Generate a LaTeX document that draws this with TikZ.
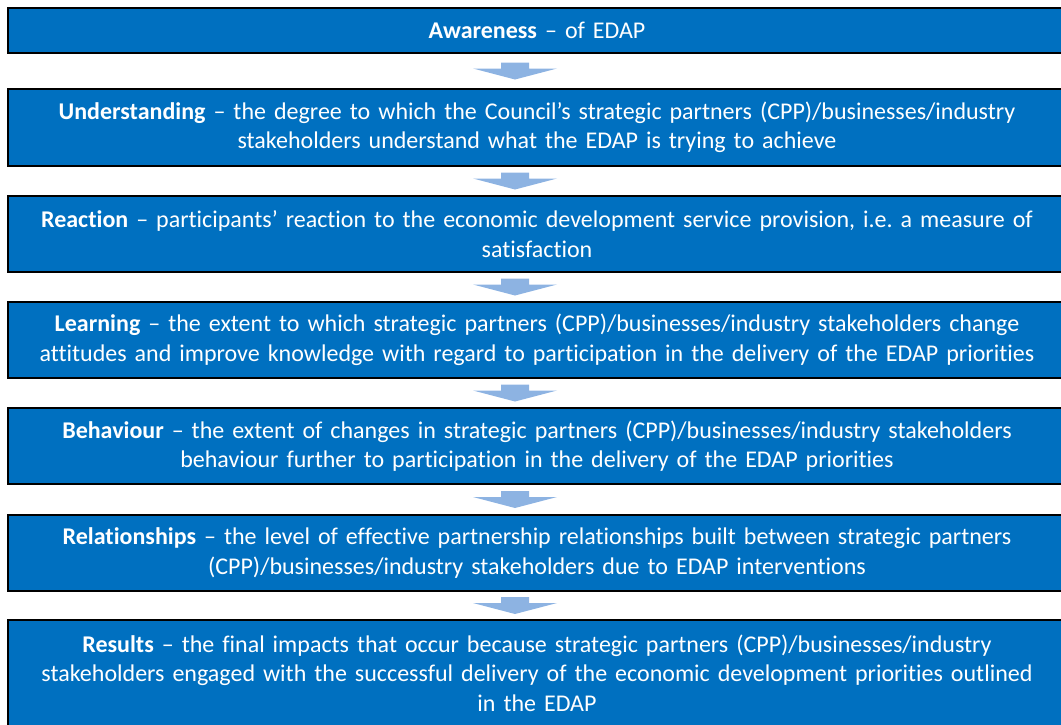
\documentclass[tikz,border=0pt]{standalone}
\usepackage{fontspec}
\setmainfont{Carlito}[Ligatures=NoCommon]
\frenchspacing
\usetikzlibrary{calc}
\definecolor{boxblue}{HTML}{0070C0}
\definecolor{arrowblue}{HTML}{8DB3E2}
\tikzset{
  box/.style={draw=black, line width=1.2pt, fill=boxblue, text=white,
    minimum width=1058pt, text width=1050pt, inner sep=0pt, align=center,
    font=\fontsize{24}{29.5}\selectfont},
  flowarrow/.style={fill=arrowblue, draw=none}
}
\newcommand\downarrowat[1]{\fill[flowarrow,shift={(#1)}] (-14,-8.5) -- (14,-8.5) -- (14,-2.5) -- (42,-2.5) -- (0,8.5) -- (-42,-2.5) -- (-14,-2.5) -- cycle;}
\begin{document}
\begin{tikzpicture}[x=1pt,y=-1pt]
\useasboundingbox (0,0) rectangle (1061,724);
\clip (0,0) rectangle (1061,724);
\node[box, minimum height=45pt] (b1) at (537,30.5) {\textbf{Awareness} – of EDAP};
\node[box, minimum height=77pt] (b2) at (537,127.5) {\textbf{Understanding} – the degree to which the Council’s strategic partners (CPP)/businesses/industry\\ stakeholders understand what the EDAP is trying to achieve};
\node[box, minimum height=76pt] (b3) at (537,234) {\textbf{Reaction} – participants’ reaction to the economic development service provision, i.e. a measure of\\ satisfaction};
\node[box, minimum height=76pt] (b4) at (537,340) {\textbf{Learning} – the extent to which strategic partners (CPP)/businesses/industry stakeholders change\\ attitudes and improve knowledge with regard to participation in the delivery of the EDAP priorities};
\node[box, minimum height=76pt] (b5) at (537,446) {\textbf{Behaviour} – the extent of changes in strategic partners (CPP)/businesses/industry stakeholders\\ behaviour further to participation in the delivery of the EDAP priorities};
\node[box, minimum height=76pt] (b6) at (537,553) {\textbf{Relationships} – the level of effective partnership relationships built between strategic partners\\ (CPP)/businesses/industry stakeholders due to EDAP interventions};
\node[box, minimum height=106pt] (b7) at (537,673) {\textbf{Results} – the final impacts that occur because strategic partners (CPP)/businesses/industry\\ stakeholders engaged with the successful delivery of the economic development priorities outlined\\ in the EDAP};
\coordinate (a1) at ($(b1.south)!0.5!(b2.north)+(-22,0)$);
\coordinate (a2) at ($(b2.south)!0.5!(b3.north)+(-22,0)$);
\coordinate (a3) at ($(b3.south)!0.5!(b4.north)+(-22,0)$);
\coordinate (a4) at ($(b4.south)!0.5!(b5.north)+(-22,0)$);
\coordinate (a5) at ($(b5.south)!0.5!(b6.north)+(-22,0)$);
\coordinate (a6) at ($(b6.south)!0.5!(b7.north)+(-22,0)$);
\downarrowat{a1}
\downarrowat{a2}
\downarrowat{a3}
\downarrowat{a4}
\downarrowat{a5}
\downarrowat{a6}
\end{tikzpicture}
\end{document}
